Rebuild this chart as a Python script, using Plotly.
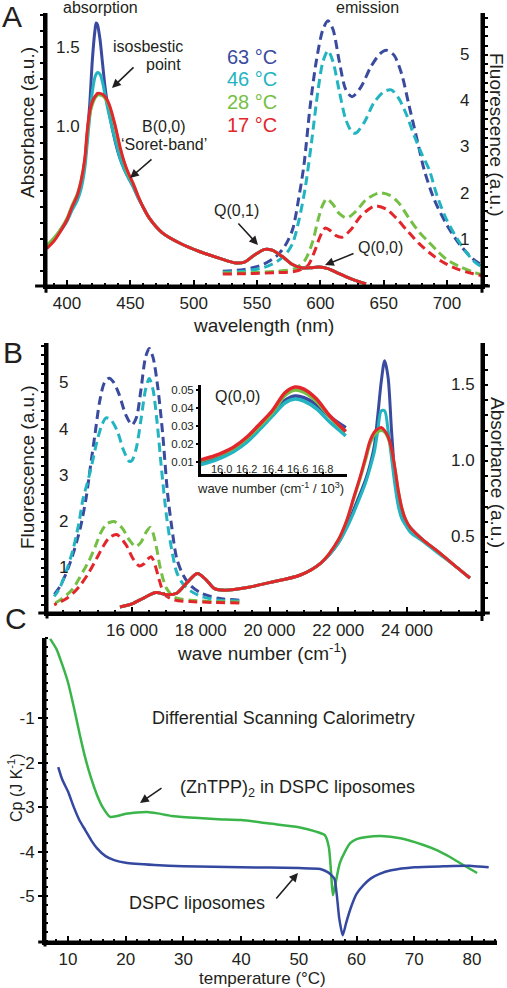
import plotly.graph_objects as go

# ---------------- DATA ----------------
temps_labels = ["63 °C", "46 °C", "28 °C", "17 °C"]

# Panel A absorption (wavelength nm, absorbance)
abs_wl = [384, 390, 395, 400, 404, 408, 411, 414, 416, 418, 420, 422, 423, 424, 426, 428, 430, 432, 434, 436,
          438, 440, 442, 445, 448, 452, 456, 460, 465, 475, 490, 505, 520, 533, 540, 548, 556, 562, 570, 578,
          585, 592, 599, 606, 613, 620, 628, 636]
abs_blue = [0.25, 0.30, 0.36, 0.42, 0.49, 0.55, 0.63, 0.78, 0.95, 1.15, 1.42, 1.60, 1.65, 1.64, 1.55, 1.40, 1.25, 1.14, 1.06, 0.98,
            0.91, 0.85, 0.80, 0.74, 0.69, 0.63, 0.56, 0.50, 0.43, 0.34, 0.27, 0.22, 0.18, 0.15, 0.155, 0.20, 0.235, 0.23, 0.19, 0.14,
            0.12, 0.12, 0.125, 0.115, 0.09, 0.065, 0.04, 0.02]
abs_cyan = [0.25, 0.30, 0.35, 0.41, 0.48, 0.54, 0.61, 0.74, 0.90, 1.07, 1.22, 1.31, 1.33, 1.34, 1.33, 1.28, 1.20, 1.12, 1.05, 0.98,
            0.92, 0.86, 0.80, 0.74, 0.69, 0.63, 0.56, 0.50, 0.43, 0.34, 0.27, 0.22, 0.18, 0.15, 0.155, 0.20, 0.235, 0.23, 0.19, 0.14,
            0.12, 0.12, 0.125, 0.115, 0.09, 0.065, 0.04, 0.02]
abs_green = [0.26, 0.31, 0.36, 0.43, 0.51, 0.58, 0.66, 0.79, 0.96, 1.08, 1.14, 1.18, 1.19, 1.20, 1.20, 1.195, 1.18, 1.155, 1.115, 1.06,
             1.00, 0.93, 0.865, 0.78, 0.71, 0.65, 0.57, 0.50, 0.43, 0.34, 0.27, 0.22, 0.18, 0.15, 0.155, 0.20, 0.235, 0.23, 0.19, 0.14,
             0.12, 0.12, 0.125, 0.115, 0.09, 0.065, 0.04, 0.02]
abs_red = [0.24, 0.29, 0.35, 0.42, 0.50, 0.57, 0.66, 0.80, 0.98, 1.10, 1.16, 1.19, 1.20, 1.21, 1.21, 1.205, 1.19, 1.165, 1.125, 1.07,
           1.01, 0.94, 0.87, 0.785, 0.72, 0.65, 0.57, 0.50, 0.43, 0.34, 0.27, 0.22, 0.18, 0.15, 0.155, 0.20, 0.235, 0.23, 0.19, 0.14,
           0.12, 0.12, 0.125, 0.115, 0.09, 0.065, 0.04, 0.02]

# Panel A emission (wavelength nm, fluorescence a.u.)
em_wl_blue = [523, 540, 555, 565, 572, 578, 583, 587, 592, 597, 602, 606, 610, 615, 620, 625, 632, 640, 647, 652,
              658, 664, 670, 676, 682, 690, 700, 710, 720, 728]
em_blue = [0.30, 0.34, 0.45, 0.62, 0.85, 1.2, 1.9, 2.6, 3.9, 4.9, 5.55, 5.74, 5.55, 4.85, 4.25, 4.09, 4.3, 4.75, 5.02, 5.1,
           5.0, 4.6, 3.9, 3.2, 2.5, 1.85, 1.3, 0.88, 0.58, 0.42]
em_wl_cyan = [523, 540, 555, 565, 572, 578, 583, 588, 593, 598, 602, 606, 610, 615, 620, 625, 628, 635, 642, 650,
              656, 662, 668, 674, 680, 686, 692, 700, 710, 720, 728]
em_cyan = [0.28, 0.30, 0.38, 0.50, 0.65, 0.90, 1.4, 2.1, 3.1, 4.2, 4.85, 5.09, 4.85, 4.2, 3.6, 3.32, 3.3, 3.55, 3.95, 4.2,
           4.24, 4.05, 3.7, 3.25, 2.85, 2.5, 1.95, 1.4, 0.92, 0.55, 0.38]
em_wl_green = [523, 545, 565, 580, 588, 594, 598, 602, 605, 610, 615, 621, 628, 636, 646, 655, 662, 670, 678, 685,
               692, 700, 710, 720, 728]
em_green = [0.26, 0.27, 0.30, 0.36, 0.55, 0.95, 1.4, 1.75, 1.87, 1.75, 1.55, 1.46, 1.6, 1.85, 2.0, 1.95, 1.78, 1.45, 1.15, 0.95,
            0.75, 0.55, 0.40, 0.29, 0.22]
em_wl_red = [523, 545, 565, 580, 590, 595, 599, 602, 604, 608, 612, 617, 624, 632, 643, 652, 660, 668, 678, 690,
             700, 710, 720, 728]
em_red = [0.24, 0.25, 0.27, 0.30, 0.42, 0.70, 1.0, 1.18, 1.24, 1.18, 1.08, 1.04, 1.2, 1.5, 1.72, 1.65, 1.45, 1.2, 0.9, 0.62,
          0.45, 0.33, 0.25, 0.20]

# Panel B absorption (wave number cm-1, absorbance)
absB_wn = [15650, 16000, 16350, 16700, 17000, 17300, 17600, 17900, 18150, 18400, 18700, 19400, 20000, 20900, 21500,
           22000, 22250, 22450, 22630, 22800, 22920, 23050, 23150, 23250, 23350, 23450, 23550, 23650, 23750, 23850,
           23950, 24100, 24470, 24870, 25450, 25830]
absB_low = [0.04, 0.06, 0.10, 0.135, 0.12, 0.13, 0.20, 0.26, 0.22, 0.16, 0.15, 0.17, 0.20, 0.25, 0.33]
absB_blue = absB_low + [0.46, 0.57, 0.68, 0.78, 0.88, 0.97, 1.10, 1.30, 1.52, 1.66, 1.55, 1.20, 0.90, 0.72, 0.64,
                        0.60, 0.56, 0.48, 0.41, 0.30, 0.23]
absB_cyan = absB_low + [0.46, 0.56, 0.66, 0.76, 0.86, 0.95, 1.06, 1.20, 1.33, 1.33, 1.20, 1.02, 0.84, 0.70, 0.62,
                        0.58, 0.53, 0.47, 0.40, 0.30, 0.23]
absB_green = absB_low + [0.48, 0.61, 0.75, 0.88, 1.01, 1.11, 1.17, 1.19, 1.20, 1.19, 1.15, 1.07, 0.95, 0.80, 0.69,
                         0.62, 0.56, 0.48, 0.41, 0.30, 0.23]
absB_red = absB_low + [0.48, 0.61, 0.76, 0.89, 1.03, 1.13, 1.19, 1.21, 1.22, 1.20, 1.16, 1.08, 0.95, 0.80, 0.69,
                       0.62, 0.56, 0.48, 0.41, 0.30, 0.23]

# Inset Q(0,0) (wave number / 10^3, absorbance)
ins_x = [15.83, 15.9, 16.0, 16.1, 16.2, 16.3, 16.4, 16.5, 16.58, 16.65, 16.75, 16.85, 16.92, 16.98]
ins_blue = [0.0095, 0.011, 0.0135, 0.0168, 0.022, 0.029, 0.0365, 0.0442, 0.0467, 0.0458, 0.0418, 0.0355, 0.0318, 0.029]
ins_cyan = [0.0085, 0.0098, 0.0125, 0.016, 0.021, 0.028, 0.0355, 0.0428, 0.045, 0.0438, 0.0395, 0.0325, 0.0282, 0.0245]
ins_green = [0.0105, 0.012, 0.0145, 0.018, 0.0233, 0.030, 0.0375, 0.047, 0.050, 0.0488, 0.0437, 0.0355, 0.0305, 0.027]
ins_red = [0.0111, 0.0125, 0.015, 0.0185, 0.0239, 0.031, 0.0385, 0.0485, 0.0517, 0.0505, 0.045, 0.036, 0.031, 0.027]

# Tick labels
A_abs_ticks = [1.0, 1.5]
A_fl_ticks = [1, 2, 3, 4, 5]
B_fl_ticks = [1, 2, 3, 4, 5]
B_abs_ticks = [0.5, 1.0, 1.5]
B_x_ticks = [16000, 18000, 20000, 22000, 24000]
B_x_ticktext = ["16 000", "18 000", "20 000", "22 000", "24 000"]
ins_x_ticks = [16.0, 16.2, 16.4, 16.6, 16.8]
ins_y_ticks = [0.01, 0.02, 0.03, 0.04, 0.05]
C_x_ticks = [10, 20, 30, 40, 50, 60, 70, 80]
C_y_ticks = [-1, -2, -3, -4, -5]

# Panel C DSC (temperature °C, Cp J/K)
dsc_T_green = [6.9, 8, 9, 10, 11, 12, 13, 14, 15, 16, 17.3, 18.5, 20, 22, 23.7, 25.5, 28, 32, 36, 40, 45, 50, 53, 54.5,
               55.2, 55.6, 55.9, 56.3, 57.1, 58, 58.9, 60, 61.8, 64.2, 67.6, 71.6, 74, 76.2, 78.5, 80.9]
dsc_green = [0.78, 0.55, 0.2, -0.2, -0.75, -1.35, -1.9, -2.35, -2.72, -3.0, -3.22, -3.2, -3.15, -3.12, -3.11, -3.14, -3.2,
             -3.24, -3.27, -3.29, -3.37, -3.45, -3.55, -3.63, -3.9, -4.5, -4.98, -4.75, -4.26, -4.0, -3.81, -3.72, -3.67,
             -3.65, -3.7, -3.85, -3.97, -4.12, -4.3, -4.48]
dsc_T_blue = [8.3, 9, 10, 11, 12, 13, 14, 15, 16.5, 18, 20, 25, 30, 40, 50, 53.7, 55, 55.8, 56.2, 56.6, 57.0, 57.6, 58.2,
              58.9, 60, 61.2, 62.5, 64, 66, 70, 75, 80, 82.9]
dsc_blue = [-2.1, -2.38, -2.65, -3.0, -3.3, -3.52, -3.74, -3.92, -4.1, -4.19, -4.25, -4.3, -4.33, -4.35, -4.37, -4.39, -4.46,
            -4.55, -4.62, -5.0, -5.5, -5.88, -5.6, -5.3, -4.95, -4.75, -4.6, -4.5, -4.42, -4.35, -4.33, -4.32, -4.35]

# ---------------- STYLE ----------------
W, H = 507, 988
FONT = "Liberation Sans, Arial, sans-serif"
TXT = "#231f20"
C_BLUE, C_CYAN, C_GREEN, C_RED = "#3a4b9f", "#22b4c0", "#74bf44", "#e3262b"
C_DSC_GREEN, C_DSC_BLUE = "#3ab54a", "#3448a0"


def px(x):
    return x / W


def py(y):
    return 1 - y / H


fig = go.Figure()

cols = [C_BLUE, C_CYAN, C_GREEN, C_RED]
em_sets = [(em_wl_blue, em_blue), (em_wl_cyan, em_cyan), (em_wl_green, em_green), (em_wl_red, em_red)]
abs_sets = [abs_blue, abs_cyan, abs_green, abs_red]
absB_sets = [absB_blue, absB_cyan, absB_green, absB_red]

# Panel A emission (base y = fluorescence, right)
for (wl, v), c in zip(em_sets, cols):
    fig.add_trace(go.Scatter(x=wl, y=v, mode="lines", xaxis="x", yaxis="y",
                             line=dict(color=c, width=3, dash="9px,5px", shape="spline", smoothing=0.8)))
# Panel A absorption (overlay, left)
for v, c in zip(abs_sets, cols):
    fig.add_trace(go.Scatter(x=abs_wl, y=v, mode="lines", xaxis="x", yaxis="y2",
                             line=dict(color=c, width=3, shape="spline", smoothing=0.8)))

# Panel B emission (wave number = 1e7 / wavelength)
for (wl, v), c in zip(em_sets, cols):
    fig.add_trace(go.Scatter(x=[1e7 / w for w in wl], y=v, mode="lines", xaxis="x2", yaxis="y3",
                             line=dict(color=c, width=3, dash="9px,5px", shape="spline", smoothing=0.8)))
# Panel B absorption
for v, c in zip(absB_sets, cols):
    fig.add_trace(go.Scatter(x=absB_wn, y=v, mode="lines", xaxis="x2", yaxis="y4",
                             line=dict(color=c, width=3, shape="spline", smoothing=0.8)))

# Inset
for v, c in zip([ins_blue, ins_cyan, ins_green, ins_red], cols):
    fig.add_trace(go.Scatter(x=ins_x, y=v, mode="lines", xaxis="x3", yaxis="y5",
                             line=dict(color=c, width=3.5, shape="spline", smoothing=0.8)))

# Panel C
fig.add_trace(go.Scatter(x=dsc_T_green, y=dsc_green, mode="lines", xaxis="x4", yaxis="y6",
                         line=dict(color=C_DSC_GREEN, width=2.5, shape="spline", smoothing=0.6)))
fig.add_trace(go.Scatter(x=dsc_T_blue, y=dsc_blue, mode="lines", xaxis="x4", yaxis="y6",
                         line=dict(color=C_DSC_BLUE, width=2.5, shape="spline", smoothing=0.6)))

tickfont = dict(family=FONT, size=17, color=TXT)
base_ax = dict(showgrid=False, zeroline=False, showline=True, linecolor="black", linewidth=3,
               tickcolor="black", tickfont=tickfont)
MINOR = dict(ticks="inside", ticklen=3, tickwidth=2, tickcolor="black")

A_dom_x = [px(46), px(482)]
A_dom_y = [py(286), py(13)]
B_dom_x = [px(47), px(482)]
B_dom_y = [py(613), py(343)]
C_dom_x = [px(45), px(497)]
C_dom_y = [py(942), py(638)]

fig.update_layout(
    width=W, height=H, margin=dict(l=0, r=0, t=0, b=0),
    paper_bgcolor="white", plot_bgcolor="white", showlegend=False,
    font=dict(family=FONT, color=TXT),
    # Panel A
    xaxis=dict(base_ax, domain=A_dom_x, anchor="y", range=[383.4, 727.6],
               tickmode="linear", tick0=400, dtick=50, ticks="inside", ticklen=6, tickwidth=2,
               minor=dict(MINOR, dtick=10, tick0=400)),
    yaxis=dict(base_ax, domain=A_dom_y, anchor="x", side="right", range=[-0.02, 5.91],
               tickmode="linear", tick0=0, dtick=0.2, ticks="outside", ticklen=3, tickwidth=2,
               showticklabels=False),
    yaxis2=dict(base_ax, domain=A_dom_y, anchor="x", overlaying="y", side="left", range=[0.006, 1.7125],
                tickmode="linear", tick0=0, dtick=0.1, ticks="outside", ticklen=3, tickwidth=2,
                showticklabels=False),
    # Panel B
    xaxis2=dict(base_ax, domain=B_dom_x, anchor="y3", range=[13527, 26182],
                tickmode="array", tickvals=B_x_ticks, ticktext=B_x_ticktext,
                ticks="inside", ticklen=6, tickwidth=2,
                minor=dict(MINOR, dtick=500, tick0=14000)),
    yaxis3=dict(base_ax, domain=B_dom_y, anchor="x2", side="left", range=[0.022, 5.86],
                tickmode="linear", tick0=0, dtick=0.2, ticks="outside", ticklen=3, tickwidth=2,
                showticklabels=False),
    yaxis4=dict(base_ax, domain=B_dom_y, anchor="x2", overlaying="y3", side="right", range=[0.0, 1.776],
                tickmode="linear", tick0=0, dtick=0.1, ticks="outside", ticklen=3, tickwidth=2,
                showticklabels=False),
    # Inset
    xaxis3=dict(base_ax, domain=[px(200), px(347)], anchor="y5", range=[15.83, 16.99], linewidth=2,
                tickmode="array", tickvals=ins_x_ticks, ticks="inside", ticklen=3, tickwidth=1.5,
                showticklabels=False),
    yaxis5=dict(base_ax, domain=[py(475), py(385)], anchor="x3", range=[0.0028, 0.0528], linewidth=2,
                tickmode="array", tickvals=ins_y_ticks, ticktext=[f"{v:.2f}" for v in ins_y_ticks],
                ticks="outside", ticklen=2, tickwidth=1.5, tickangle=0,
                tickfont=dict(family=FONT, size=11.5, color=TXT)),
    # Panel C
    xaxis4=dict(base_ax, domain=C_dom_x, anchor="y6", range=[6.01, 84.34],
                tickmode="array", tickvals=C_x_ticks, ticks="inside", ticklen=6, tickwidth=2,
                minor=dict(MINOR, dtick=2, tick0=0)),
    yaxis6=dict(base_ax, domain=C_dom_y, anchor="x4", range=[-6.03, 0.80],
                tickmode="array", tickvals=C_y_ticks, ticktext=[str(v) for v in C_y_ticks],
                ticks="outside", ticklen=4, tickwidth=2,
                minor=dict(MINOR, dtick=0.2, tick0=0)),
)

# Axis lines drawn as domain-referenced shapes
shapes = []


def hline(xr, yr, x0, x1, yv, w=3):
    shapes.append(dict(type="line", xref=xr + " domain", yref=yr + " domain", x0=x0, x1=x1, y0=yv, y1=yv,
                       line=dict(color="black", width=w), layer="above"))


def vline(xr, yr, xv, y0, y1, w=3):
    shapes.append(dict(type="line", xref=xr + " domain", yref=yr + " domain", x0=xv, x1=xv, y0=y0, y1=y1,
                       line=dict(color="black", width=w), layer="above"))


hline("x", "y", -0.025, 1.018, 0)
vline("x", "y", 0, -0.025, 1)
vline("x", "y", 1, -0.025, 1)
hline("x2", "y3", -0.02, 1.018, 0)
vline("x2", "y3", 0, -0.02, 1)
vline("x2", "y3", 1, -0.03, 1)
hline("x3", "y5", 0, 1, 0, w=2)
vline("x3", "y5", 0, 0, 1, w=2)
hline("x4", "y6", -0.015, 1, 0)
vline("x4", "y6", 0, -0.015, 1)
fig.update_layout(shapes=shapes)

ann = []


def text(x, y, s, size=16, color=TXT, angle=0, xanchor="center"):
    ann.append(dict(x=px(x), y=py(y), xref="paper", yref="paper", text=s, showarrow=False,
                    xanchor=xanchor, yanchor="middle", textangle=angle,
                    font=dict(family=FONT, size=size, color=color)))


def dtext(xv, xref, yv, yref, s, size=17, xanchor="center", yanchor="middle"):
    ann.append(dict(x=xv, y=yv, xref=xref, yref=yref, text=s, showarrow=False,
                    xanchor=xanchor, yanchor=yanchor, font=dict(family=FONT, size=size, color=TXT)))


def arrow(tail, tip):
    ann.append(dict(x=px(tip[0]), y=py(tip[1]), xref="paper", yref="paper", text="",
                    showarrow=True, ax=tail[0] - tip[0], ay=tail[1] - tip[1],
                    arrowhead=2, arrowsize=1.1, arrowwidth=1.6, arrowcolor="#231f20"))


# Inside tick labels (positioned through the axes' own scales)
for v in A_abs_ticks:
    dtext(px(54), "paper", v, "y2", f"{v:.1f}", xanchor="left")
for v in A_fl_ticks:
    dtext(px(471), "paper", v, "y", str(v), xanchor="right")
for v in B_fl_ticks:
    dtext(px(57), "paper", v, "y3", str(v), xanchor="left")
for v in B_abs_ticks:
    dtext(px(477), "paper", v, "y4", f"{v:.1f}", xanchor="right")
for v in ins_x_ticks:
    dtext(v, "x3", py(469), "paper", f"{v:.1f}", size=11)

# Panel letters
text(12, 16, "A", size=30)
text(13, 352, "B", size=30)
text(16, 618, "C", size=30)

# Panel A labels
text(100, 8, "absorption", size=16)
text(367, 8, "emission", size=16)
text(148, 47, "isosbestic", size=16)
text(183, 65, "point", size=16, xanchor="right")
arrow((135, 66), (112, 88))
text(164, 127, "B(0,0)", size=16)
text(164, 145, "‘Soret-band’", size=16)
arrow((153, 158), (130, 178))
text(236, 210, "Q(0,1)", size=16)
arrow((237, 222), (258, 245))
text(380, 248, "Q(0,0)", size=16)
arrow((355, 253), (325, 265))
for lab, c, yy in zip(temps_labels, cols, [57, 79, 102, 125]):
    text(252, yy, lab, size=20, color=c)

# Axis titles
text(263, 325, "wavelength (nm)", size=19)
text(27, 123, "Absorbance (a.u.)", size=19, angle=-90)
text(497, 135, "Fluorescence (a.u.)", size=19, angle=90)
text(262, 652, "wave number (cm<sup>-1</sup>)", size=19)
text(27, 467, "Fluorescence (a.u.)", size=19, angle=-90)
text(498, 472, "Absorbance (a.u.)", size=19, angle=90)
text(237, 396, "Q(0,0)", size=16)
text(270, 488, "wave number (cm<sup>-1</sup> / 10<sup>3</sup>)", size=13)

# Panel C
text(283, 718, "Differential Scanning Calorimetry", size=18)
text(297, 788, "(ZnTPP)<sub>2</sub> in DSPC liposomes", size=18)
arrow((163, 787), (140, 803))
text(197, 903, "DSPC liposomes", size=18)
arrow((275, 900), (298, 873))
text(262, 978, "temperature (°C)", size=17)
text(15, 788, "Cp (J K<sup>-1</sup>)", size=16, angle=-90)

fig.update_layout(annotations=ann)
fig.write_html("out.html", config={"displayModeBar": False},
               post_script="document.body.style.margin='0px';document.body.style.overflow='hidden';")
